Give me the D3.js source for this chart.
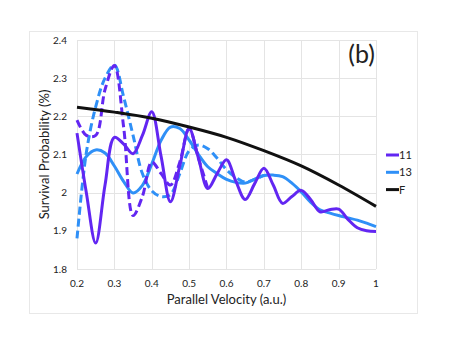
<!DOCTYPE html>
<html>
<head>
<meta charset="utf-8">
<script src="https://cdn.jsdelivr.net/npm/d3@7"></script>
<style>
  body { margin: 0; background: #fff; }
  svg text { font-family: Lato, "Open Sans", sans-serif; fill: #222; }
</style>
</head>
<body>
<div id="chart"></div>
<script>
// data
const velocity = [0.2, 0.225, 0.25, 0.275, 0.3, 0.325, 0.35, 0.375, 0.4, 0.425, 0.45, 0.475,
  0.5, 0.525, 0.55, 0.575, 0.6, 0.625, 0.65, 0.675, 0.7, 0.725, 0.75, 0.775,
  0.8, 0.825, 0.85, 0.875, 0.9, 0.925, 0.95, 0.975, 1.0];

const s11 = [2.156, 2.0, 1.868, 2.02, 2.145, 2.127, 2.102, 2.15, 2.212, 2.095, 1.976, 2.07,
  2.168, 2.09, 2.011, 2.05, 2.086, 2.03, 1.982, 2.023, 2.064, 2.02, 1.972, 1.99,
  2.006, 1.982, 1.95, 1.955, 1.957, 1.93, 1.908, 1.9, 1.898];

const s11dash = [2.19, 2.15, 2.15, 2.27, 2.333, 2.17, 1.94, 1.99, 2.08, 2.05, 2.02, 2.08,
  2.168, 2.09, 2.011];

const s13 = [2.049, 2.095, 2.112, 2.104, 2.07, 2.029, 1.999, 2.019, 2.075, 2.137, 2.172, 2.168,
  2.138, 2.1, 2.068, 2.05, 2.035, 2.027, 2.025, 2.035, 2.045, 2.046, 2.042, 2.025,
  2.002, 1.975, 1.955, 1.947, 1.94, 1.934, 1.928, 1.92, 1.911];

const s13dash = [1.88, 2.105, 2.225, 2.3, 2.334, 2.25, 2.15, 2.05, 2.005, 1.99, 1.995, 2.05,
  2.11, 2.125, 2.115, 2.09, 2.06, 2.04, 2.028, 2.035, 2.045];

const fVelocity = [0.2, 0.3, 0.4, 0.5, 0.6, 0.7, 0.8, 0.9, 1.0];
const fVals = [2.224, 2.211, 2.195, 2.172, 2.145, 2.11, 2.07, 2.02, 1.964];

const xTicks = [0.2, 0.3, 0.4, 0.5, 0.6, 0.7, 0.8, 0.9, 1];
const yTicks = [1.8, 1.9, 2.0, 2.1, 2.2, 2.3, 2.4];

const purple = '#6226f2';
const blue = '#2f90f7';

const width = 452, height = 350;
const svg = d3.select('#chart').append('svg')
  .attr('width', width)
  .attr('height', height);

// outer frame
svg.append('rect')
  .attr('x', 29.5).attr('y', 31.5)
  .attr('width', 388).attr('height', 282)
  .attr('fill', 'none')
  .attr('stroke', '#e8e8e8');

const x = d3.scaleLinear().domain([0.2, 1]).range([77, 376]);
const y = d3.scaleLinear().domain([1.8, 2.4]).range([269, 40]);

// grid
svg.append('g').selectAll('line.hg')
  .data(yTicks).enter().append('line')
  .attr('x1', x(0.2)).attr('x2', x(1))
  .attr('y1', d => Math.round(y(d)) + 0.5).attr('y2', d => Math.round(y(d)) + 0.5)
  .attr('stroke', '#e4e4e4');
svg.append('g').selectAll('line.vg')
  .data(xTicks).enter().append('line')
  .attr('y1', y(1.8)).attr('y2', y(2.4))
  .attr('x1', d => Math.round(x(d)) + 0.5).attr('x2', d => Math.round(x(d)) + 0.5)
  .attr('stroke', '#e4e4e4');

// tick labels
svg.append('g').selectAll('text')
  .data(yTicks).enter().append('text')
  .attr('x', 67).attr('y', d => y(d) + 3.5)
  .attr('text-anchor', 'end')
  .style('font-size', '10px')
  .text(d => d === 2 ? '2' : d3.format('.1f')(d));
svg.append('g').selectAll('text')
  .data(xTicks).enter().append('text')
  .attr('x', d => x(d)).attr('y', 287)
  .attr('text-anchor', 'middle')
  .style('font-size', '10px')
  .text(d => d === 1 ? '1' : d3.format('.1f')(d));

// axis titles
svg.append('text')
  .attr('x', (x(0.2) + x(1)) / 2).attr('y', 304)
  .attr('text-anchor', 'middle')
  .style('font-size', '13px')
  .text('Parallel Velocity (a.u.)');
svg.append('text')
  .attr('transform', `translate(49, ${(y(1.8) + y(2.4)) / 2}) rotate(-90)`)
  .attr('text-anchor', 'middle')
  .style('font-size', '13px')
  .text('Survival Probability (%)');

svg.append('text')
  .attr('x', 375).attr('y', 63)
  .attr('text-anchor', 'end')
  .style('font-size', '25px')
  .text('(b)');

// lines
const line = d3.line()
  .x(d => x(d[0]))
  .y(d => y(d[1]))
  .curve(d3.curveCatmullRom.alpha(0.5));

const series = [
  { name: '13d', xs: velocity, ys: s13dash, color: blue, dash: '8,4' },
  { name: '13', xs: velocity, ys: s13, color: blue, dash: null },
  { name: '11d', xs: velocity, ys: s11dash, color: purple, dash: '8,4' },
  { name: '11', xs: velocity, ys: s11, color: purple, dash: null },
  { name: 'F', xs: fVelocity, ys: fVals, color: '#111', dash: null }
];

svg.append('g').selectAll('path')
  .data(series).enter().append('path')
  .attr('d', s => line(s.ys.map((v, i) => [s.xs[i], v])))
  .attr('fill', 'none')
  .attr('stroke', s => s.color)
  .attr('stroke-width', 3)
  .attr('stroke-dasharray', s => s.dash);

// legend
const legend = [
  { label: '11', color: purple },
  { label: '13', color: blue },
  { label: 'F', color: '#111' }
];
const lg = svg.append('g').selectAll('g')
  .data(legend).enter().append('g')
  .attr('transform', (d, i) => `translate(386, ${155 + i * 17.3})`);
lg.append('line')
  .attr('x1', 0).attr('x2', 13)
  .attr('stroke', d => d.color)
  .attr('stroke-width', 3);
lg.append('text')
  .attr('x', 13).attr('y', 4)
  .style('font-size', '11px')
  .text(d => d.label);
</script>
</body>
</html>
